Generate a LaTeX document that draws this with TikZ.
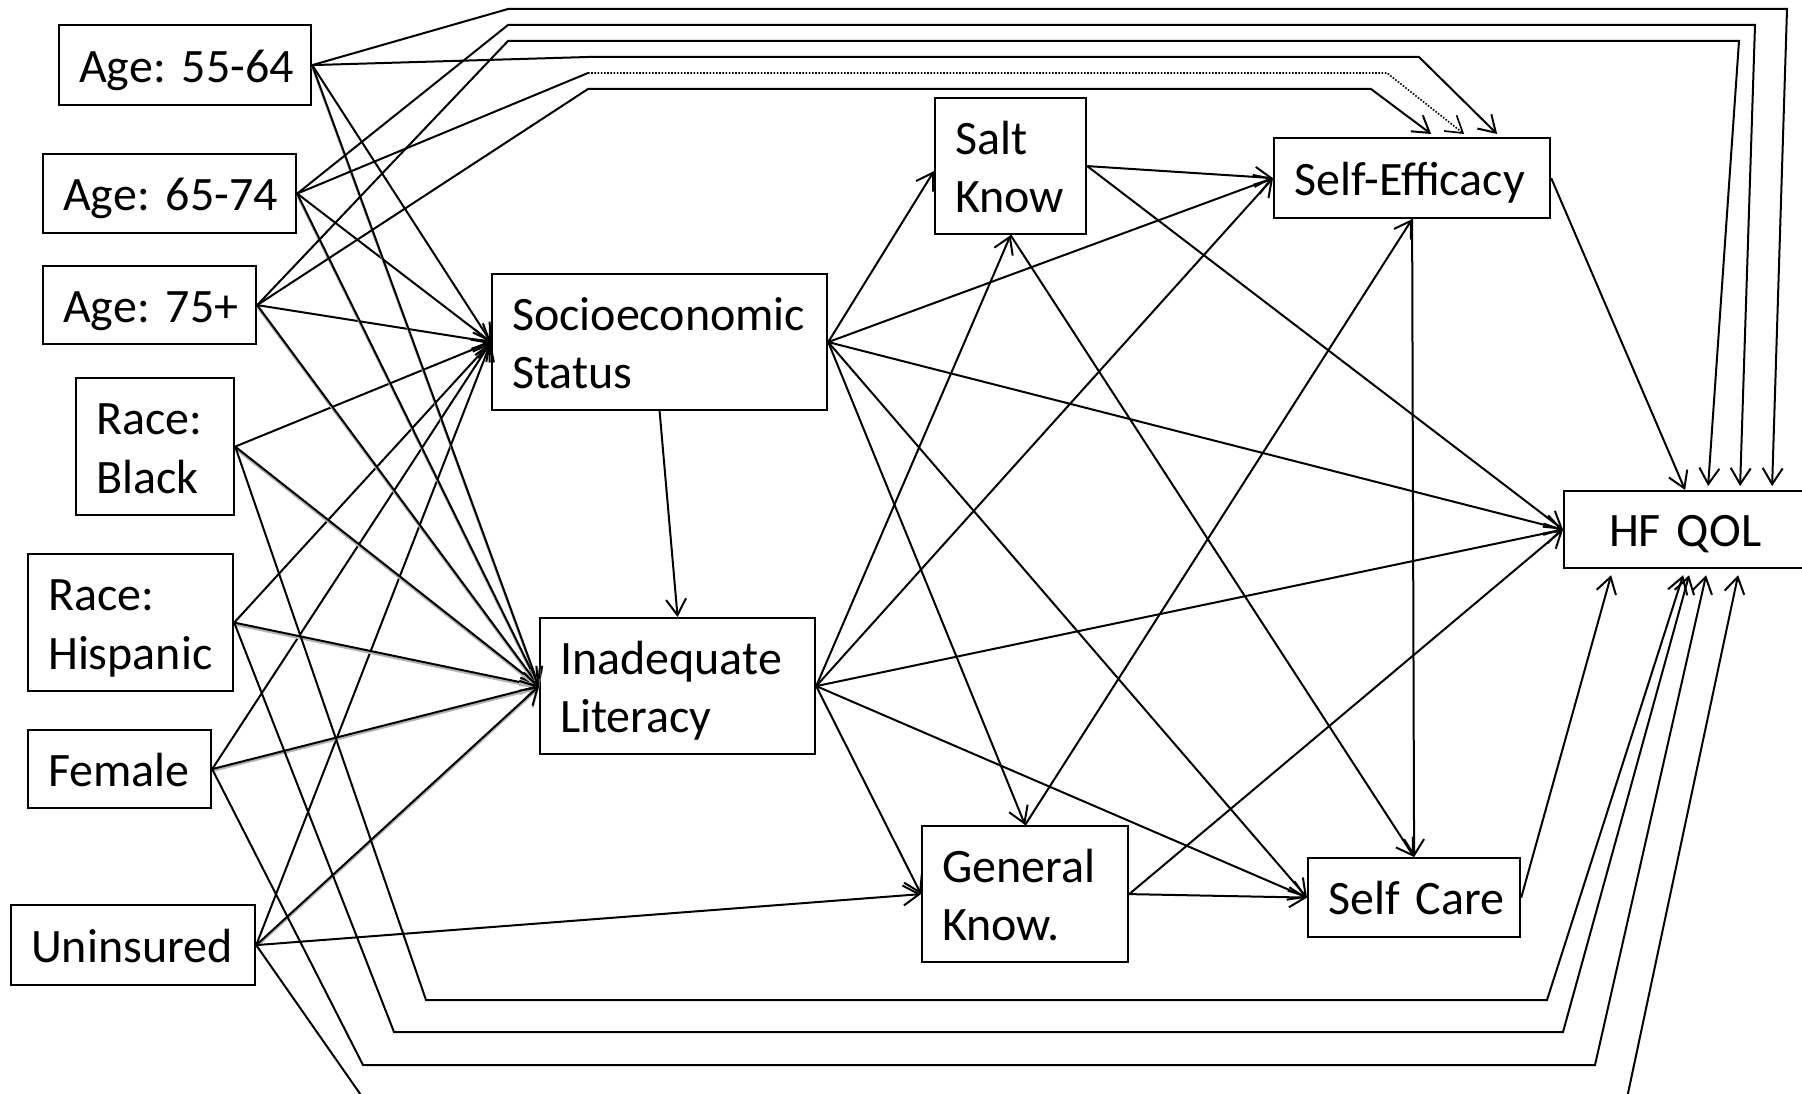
\documentclass[tikz,border=0pt]{standalone}
\usepackage{fontspec}
\setmainfont[WordSpace=0.75]{Carlito}
\usetikzlibrary{arrows.meta,calc}
% one text line of a box: fixed ascent/descent so boxes line up alike
\newcommand\boxfont{\fontsize{48pt}{58.5pt}\selectfont\frenchspacing}
\newcommand\boxline[1]{\mbox{\rule[-12pt]{0pt}{58.5pt}#1}}

\begin{document}
\begin{tikzpicture}[x=1pt,y=-1pt,
  box/.style={draw, line width=2.2pt, inner xsep=20pt, inner ysep=0pt,
    align=left, anchor=north west, font=\boxfont},
  link/.style={line width=2pt, -{Straight Barb[length=16pt,width=20pt]}},
  seg/.style={line width=2pt},
  shadowed/.style={preaction={draw=black!30, line width=2pt,
    transform canvas={yshift=-2pt}}},
  dottedline/.style={line width=1.6pt, dash pattern=on 1.6pt off 1.6pt}
]
\useasboundingbox (0,0) rectangle (1802,1094);
\fill[white] (0,0) rectangle (1802,1094);
\clip (0,0) rectangle (1802,1094);

% ---------- exogenous variables ----------
\node[box, minimum width=252pt, text width=212pt, minimum height=80pt]  (age55)  at (58,24)  {\boxline{Age: 55-64}};
\node[box, minimum width=253pt, text width=213pt, minimum height=79pt]  (age65)  at (42,153) {\boxline{Age: 65-74}};
\node[box, minimum width=213pt, text width=173pt, minimum height=78pt]  (age75)  at (42,265) {\boxline{Age: 75+}};
\node[box, minimum width=158pt, text width=118pt, minimum height=137pt] (black)  at (75,377) {\boxline{Race:}\\\boxline{Black}};
\node[box, minimum width=205pt, text width=165pt, minimum height=137pt] (hisp)   at (27,553) {\boxline{Race:}\\\boxline{Hispanic}};
\node[box, minimum width=183pt, text width=143pt, minimum height=78pt]  (female) at (27,729) {\boxline{Female}};
\node[box, minimum width=244pt, text width=204pt, minimum height=80pt]  (unins)  at (10,904) {\boxline{Uninsured}};

% ---------- mediators and outcome ----------
\node[box, minimum width=335pt, text width=295pt, minimum height=136pt] (ses)  at (491,273)  {\boxline{Socioeconomic}\\\boxline{Status}};
\node[box, minimum width=275pt, text width=235pt, minimum height=136pt] (lit)  at (539,617)  {\boxline{Inadequate}\\\boxline{Literacy}};
\node[box, minimum width=151pt, text width=111pt, minimum height=136pt] (salt) at (934,97)   {\boxline{Salt}\\\boxline{Know}};
\node[box, minimum width=276pt, text width=236pt, minimum height=80pt]  (se)   at (1273,137) {\boxline{Self-Efficacy}};
\node[box, align=center, minimum width=242pt, text width=202pt, minimum height=77pt] (qol) at (1563,490) {\boxline{HF QOL}};
\node[box, minimum width=206pt, text width=166pt, minimum height=136pt] (gk)   at (921,825)  {\boxline{General}\\\boxline{Know.}};
\node[box, minimum width=212pt, text width=172pt, minimum height=79pt]  (sc)   at (1307,857) {\boxline{Self Care}};

% ---------- exogenous -> SES and literacy ----------
\foreach \s in {age55,age65,age75,black,hisp,female,unins}
  \draw[link] (\s.east) -- (ses.west);
\foreach \s in {age55,age65,age75,black,hisp,female,unins}
  \draw[link,shadowed] (\s.east) -- (lit.west);

% ---------- age -> HF QOL, routed over the top ----------
\draw[link] (age55.east) -- (508,9)  -- (1787,9)  -- ($(qol.north)+(87,-4)$);
\draw[link] (age65.east) -- (508,25) -- (1755,25) -- ($(qol.north)+(55,-4)$);
\draw[link] (age75.east) -- (508,41) -- (1739,41) -- ($(qol.north)+(23,-4)$);

% ---------- age -> self-efficacy ----------
\coordinate (d65) at (588,73);
\draw[link] (age55.east) -- (588,57) -- (1419,57) -- ($(se.north)+(85,-3)$);
\draw[seg]  (age65.east) -- (d65);
\draw[link,dottedline] (d65) -- (1387,73) -- ($(se.north)+(52,-3)$);
\draw[link] (age75.east) -- (588,89) -- (1371,89) -- ($(se.north)+(19,-3)$);

% ---------- race, sex, insurance -> HF QOL, routed underneath ----------
\draw[link] (black.east)  -- (426,1000) -- (1547,1000) -- ($(qol.south)+(-2,6)$);
\draw[link] (hisp.east)   -- (394,1032) -- (1563,1032) -- ($(qol.south)+(4,6)$);
\draw[link] (female.east) -- (363,1065) -- (1595,1065) -- ($(qol.south)+(21,6)$);
\draw[link] (unins.east)  -- (363,1098) -- (1627,1098) -- ($(qol.south)+(53,6)$);
\draw[link] (unins.east) -- (gk.west);

% ---------- socioeconomic status ----------
\draw[link] (ses.south) -- (lit.north);
\draw[link] (ses.east) -- ($(salt.west)+(0,5)$);
\draw[link] (ses.east) -- (se.west);
\draw[link] (ses.east) -- (qol.west);
\draw[link] (ses.east) -- (gk.north);
\draw[link] (ses.east) -- (sc.west);

% ---------- literacy ----------
\draw[link] (lit.east) -- (salt.south);
\draw[link] (lit.east) -- (se.west);
\draw[link] (lit.east) -- (qol.west);
\draw[link] (lit.east) -- (gk.west);
\draw[link] (lit.east) -- (sc.west);

% ---------- knowledge ----------
\draw[link] (salt.east)  -- (se.west);
\draw[link] (salt.east)  -- (qol.west);
\draw[link] (salt.south) -- (sc.north);
\draw[link] (gk.north) -- (se.south);
\draw[link] (gk.east)  -- (sc.west);
\draw[link] (gk.east)  -- (qol.west);

% ---------- self-efficacy and self care ----------
\draw[link] (se.east)  -- (qol.north);
\draw[link] (se.south) -- (sc.north);
\draw[link] (sc.east)  -- ($(qol.south)+(-74,6)$);
\end{tikzpicture}
\end{document}
